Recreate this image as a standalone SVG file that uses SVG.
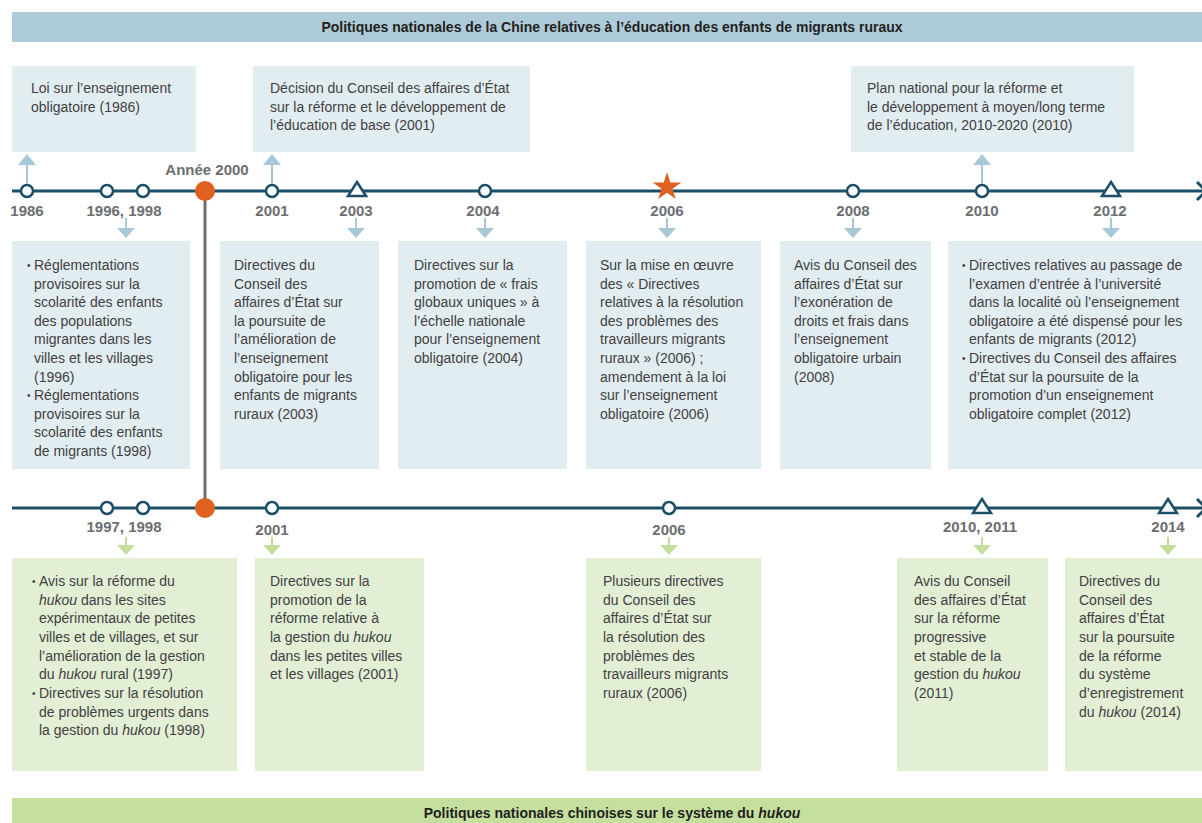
<svg xmlns="http://www.w3.org/2000/svg" width="1202" height="823" viewBox="0 0 1202 823">
<style>
.hdr{font-family:"Liberation Sans",Arial,sans-serif;font-weight:bold;font-size:14px;fill:#231f20;text-anchor:middle}
.yr{font-family:"Liberation Sans",Arial,sans-serif;font-weight:bold;font-size:15px;fill:#6d6e71;text-anchor:middle}
.tx{font-family:"Liberation Sans",Arial,sans-serif;font-size:14px;fill:#414042}
.bul{font-family:"Liberation Sans",Arial,sans-serif;font-size:10px;fill:#414042}
.it{font-style:italic}
.bbox{fill:#e2edf1}
.gbox{fill:#e2efd5}
.tl{stroke:#1b4f68;stroke-width:3;fill:none}
.dot{fill:#ffffff;stroke:#1b4f68;stroke-width:2.5}
.tri{fill:#ffffff;stroke:#1b4f68;stroke-width:2.5;stroke-linejoin:miter}
.org{fill:#e0601f}
.barr{fill:#a9c8d7}
.garr{fill:#c3de9c}
</style>

<g id="header">
<rect x="12" y="12" width="1190" height="30" fill="#aecbd9"/>
<text class="hdr" x="612" y="32">Politiques nationales de la Chine relatives à l’éducation des enfants de migrants ruraux</text>
</g>
<g id="footer">
<rect x="12" y="798" width="1190" height="25" fill="#c5df9f"/>
<text class="hdr" x="612" y="818">Politiques nationales chinoises sur le système du <tspan class="it">hukou</tspan></text>
</g>

<g id="connectors">
<line class="tl" x1="12" y1="191" x2="1202" y2="191"/>
<line class="tl" x1="12" y1="508" x2="1202" y2="508"/>
<polyline class="tl" points="1197,182 1206,191 1197,200"/>
<polyline class="tl" points="1197,499 1206,508 1197,517"/>
<line x1="205" y1="191" x2="205" y2="508" stroke="#6d6e71" stroke-width="3"/>
<!-- up arrows -->
<path class="barr" d="M27,154 L36,165 L28,165 L28,185 L26,185 L26,165 L18,165 Z"/>
<path class="barr" d="M272,154 L281,165 L273,165 L273,185 L271,185 L271,165 L263,165 Z"/>
<path class="barr" d="M982,154 L991,165 L983,165 L983,185 L981,185 L981,165 L973,165 Z"/>
<!-- down arrows top -->
<path class="barr" d="M125,218 L127,218 L127,228 L135,228 L126,238 L117,228 L125,228 Z"/>
<path class="barr" d="M355,218 L357,218 L357,228 L365,228 L356,238 L347,228 L355,228 Z"/>
<path class="barr" d="M484,218 L486,218 L486,228 L494,228 L485,238 L476,228 L484,228 Z"/>
<path class="barr" d="M666,218 L668,218 L668,228 L676,228 L667,238 L658,228 L666,228 Z"/>
<path class="barr" d="M852,218 L854,218 L854,228 L862,228 L853,238 L844,228 L852,228 Z"/>
<path class="barr" d="M1110,218 L1112,218 L1112,228 L1120,228 L1111,238 L1102,228 L1110,228 Z"/>
<!-- down arrows bottom -->
<path class="garr" d="M125,537 L127,537 L127,545 L135,545 L126,555 L117,545 L125,545 Z"/>
<path class="garr" d="M271,537 L273,537 L273,545 L281,545 L272,555 L263,545 L271,545 Z"/>
<path class="garr" d="M668,537 L670,537 L670,545 L678,545 L669,555 L660,545 L668,545 Z"/>
<path class="garr" d="M981,537 L983,537 L983,545 L991,545 L982,555 L973,545 L981,545 Z"/>
<path class="garr" d="M1167,537 L1169,537 L1169,545 L1177,545 L1168,555 L1159,545 L1167,545 Z"/>
</g>

<!-- top timeline nodes -->
<g id="t1986"><circle class="dot" cx="27" cy="191" r="6"/><text class="yr" x="27" y="216">1986</text></g>
<g id="t1996-1998"><circle class="dot" cx="107" cy="191" r="6"/><circle class="dot" cx="143" cy="191" r="6"/><text class="yr" x="124" y="216">1996, 1998</text></g>
<g id="t2000"><circle class="org" cx="205" cy="191" r="10"/><text class="yr" x="207" y="175">Année 2000</text></g>
<g id="t2001"><circle class="dot" cx="272" cy="191" r="6"/><text class="yr" x="272" y="216">2001</text></g>
<g id="t2003"><polygon class="tri" points="357,182 366,196 348,196"/><text class="yr" x="356" y="216">2003</text></g>
<g id="t2004"><circle class="dot" cx="485" cy="191" r="6"/><text class="yr" x="483" y="216">2004</text></g>
<g id="t2006"><polygon class="org" points="667,172 670.4,182.4 681.3,182.4 672.5,188.8 675.8,199.1 667,192.7 658.2,199.1 661.5,188.8 652.7,182.4 663.6,182.4"/><text class="yr" x="667" y="216">2006</text></g>
<g id="t2008"><circle class="dot" cx="853" cy="191" r="6"/><text class="yr" x="853" y="216">2008</text></g>
<g id="t2010"><circle class="dot" cx="982" cy="191" r="6"/><text class="yr" x="982" y="216">2010</text></g>
<g id="t2012"><polygon class="tri" points="1111,182 1120,196 1102,196"/><text class="yr" x="1110" y="216">2012</text></g>

<!-- bottom timeline nodes -->
<g id="b1997-1998"><circle class="dot" cx="107" cy="508" r="6"/><circle class="dot" cx="143" cy="508" r="6"/><text class="yr" x="124" y="532">1997, 1998</text></g>
<g id="b2000"><circle class="org" cx="205" cy="508" r="10"/></g>
<g id="b2001"><circle class="dot" cx="272" cy="508" r="6"/><text class="yr" x="272" y="535">2001</text></g>
<g id="b2006"><circle class="dot" cx="669" cy="508" r="6"/><text class="yr" x="669" y="535">2006</text></g>
<g id="b2010-2011"><polygon class="tri" points="982,499 991,513 973,513"/><text class="yr" x="980" y="532">2010, 2011</text></g>
<g id="b2014"><polygon class="tri" points="1168,499 1177,513 1159,513"/><text class="yr" x="1168" y="532">2014</text></g>

<!-- top boxes -->
<g id="box-1986"><rect class="bbox" x="12" y="66" width="184" height="86"/>
<text class="tx" x="31" y="93">Loi sur l’enseignement</text>
<text class="tx" x="31" y="111.5">obligatoire (1986)</text></g>
<g id="box-2001"><rect class="bbox" x="253" y="66" width="277" height="86"/>
<text class="tx" x="270" y="93">Décision du Conseil des affaires d’État</text>
<text class="tx" x="270" y="111.5">sur la réforme et le développement de</text>
<text class="tx" x="270" y="130">l’éducation de base (2001)</text></g>
<g id="box-2010"><rect class="bbox" x="851" y="66" width="283" height="86"/>
<text class="tx" x="867" y="93">Plan national pour la réforme et</text>
<text class="tx" x="867" y="111.5">le développement à moyen/long terme</text>
<text class="tx" x="867" y="130">de l’éducation, 2010-2020 (2010)</text></g>

<!-- middle boxes (blue) -->
<g id="box-1996-1998"><rect class="bbox" x="12" y="241" width="178" height="228"/>
<text class="bul" x="27" y="269">•</text><text class="bul" x="27" y="399">•</text>
<text class="tx" x="34" y="270">Réglementations</text>
<text class="tx" x="34" y="288.6">provisoires sur la</text>
<text class="tx" x="34" y="307.2">scolarité des enfants</text>
<text class="tx" x="34" y="325.8">des populations</text>
<text class="tx" x="34" y="344.4">migrantes dans les</text>
<text class="tx" x="34" y="363">villes et les villages</text>
<text class="tx" x="34" y="381.6">(1996)</text>
<text class="tx" x="34" y="400.2">Réglementations</text>
<text class="tx" x="34" y="418.8">provisoires sur la</text>
<text class="tx" x="34" y="437.4">scolarité des enfants</text>
<text class="tx" x="34" y="456">de migrants (1998)</text></g>
<g id="box-2003"><rect class="bbox" x="220" y="241" width="159" height="228"/>
<text class="tx" x="234" y="270">Directives du</text>
<text class="tx" x="234" y="288.6">Conseil des</text>
<text class="tx" x="234" y="307.2">affaires d’État sur</text>
<text class="tx" x="234" y="325.8">la poursuite de</text>
<text class="tx" x="234" y="344.4">l’amélioration de</text>
<text class="tx" x="234" y="363">l’enseignement</text>
<text class="tx" x="234" y="381.6">obligatoire pour les</text>
<text class="tx" x="234" y="400.2">enfants de migrants</text>
<text class="tx" x="234" y="418.8">ruraux (2003)</text></g>
<g id="box-2004"><rect class="bbox" x="398" y="241" width="169" height="228"/>
<text class="tx" x="414" y="270">Directives sur la</text>
<text class="tx" x="414" y="288.6">promotion de « frais</text>
<text class="tx" x="414" y="307.2">globaux uniques » à</text>
<text class="tx" x="414" y="325.8">l’échelle nationale</text>
<text class="tx" x="414" y="344.4">pour l’enseignement</text>
<text class="tx" x="414" y="363">obligatoire (2004)</text></g>
<g id="box-2006"><rect class="bbox" x="586" y="241" width="175" height="228"/>
<text class="tx" x="600" y="270">Sur la mise en œuvre</text>
<text class="tx" x="600" y="288.6">des « Directives</text>
<text class="tx" x="600" y="307.2">relatives à la résolution</text>
<text class="tx" x="600" y="325.8">des problèmes des</text>
<text class="tx" x="600" y="344.4">travailleurs migrants</text>
<text class="tx" x="600" y="363">ruraux » (2006) ;</text>
<text class="tx" x="600" y="381.6">amendement à la loi</text>
<text class="tx" x="600" y="400.2">sur l’enseignement</text>
<text class="tx" x="600" y="418.8">obligatoire (2006)</text></g>
<g id="box-2008"><rect class="bbox" x="780" y="241" width="151" height="228"/>
<text class="tx" x="794" y="270">Avis du Conseil des</text>
<text class="tx" x="794" y="288.6">affaires d’État sur</text>
<text class="tx" x="794" y="307.2">l’exonération de</text>
<text class="tx" x="794" y="325.8">droits et frais dans</text>
<text class="tx" x="794" y="344.4">l’enseignement</text>
<text class="tx" x="794" y="363">obligatoire urbain</text>
<text class="tx" x="794" y="381.6">(2008)</text></g>
<g id="box-2012"><rect class="bbox" x="948" y="241" width="254" height="228"/>
<text class="bul" x="962" y="269">•</text><text class="bul" x="962" y="362">•</text>
<text class="tx" x="969" y="270">Directives relatives au passage de</text>
<text class="tx" x="969" y="288.6">l’examen d’entrée à l’université</text>
<text class="tx" x="969" y="307.2">dans la localité où l’enseignement</text>
<text class="tx" x="969" y="325.8">obligatoire a été dispensé pour les</text>
<text class="tx" x="969" y="344.4">enfants de migrants (2012)</text>
<text class="tx" x="969" y="363">Directives du Conseil des affaires</text>
<text class="tx" x="969" y="381.6">d’État sur la poursuite de la</text>
<text class="tx" x="969" y="400.2">promotion d’un enseignement</text>
<text class="tx" x="969" y="418.8">obligatoire complet (2012)</text></g>

<!-- bottom boxes (green) -->
<g id="box-1997-1998"><rect class="gbox" x="12" y="558" width="225" height="213"/>
<text class="bul" x="32" y="585">•</text><text class="bul" x="32" y="697">•</text>
<text class="tx" x="39" y="586">Avis sur la réforme du</text>
<text class="tx" x="39" y="604.7"><tspan class="it">hukou</tspan> dans les sites</text>
<text class="tx" x="39" y="623.3">expérimentaux de petites</text>
<text class="tx" x="39" y="642">villes et de villages, et sur</text>
<text class="tx" x="39" y="660.7">l’amélioration de la gestion</text>
<text class="tx" x="39" y="679.3">du <tspan class="it">hukou</tspan> rural (1997)</text>
<text class="tx" x="39" y="698">Directives sur la résolution</text>
<text class="tx" x="39" y="716.7">de problèmes urgents dans</text>
<text class="tx" x="39" y="735.3">la gestion du <tspan class="it">hukou</tspan> (1998)</text></g>
<g id="box-2001b"><rect class="gbox" x="255" y="558" width="169" height="213"/>
<text class="tx" x="270" y="586">Directives sur la</text>
<text class="tx" x="270" y="604.7">promotion de la</text>
<text class="tx" x="270" y="623.3">réforme relative à</text>
<text class="tx" x="270" y="642">la gestion du <tspan class="it">hukou</tspan></text>
<text class="tx" x="270" y="660.7">dans les petites villes</text>
<text class="tx" x="270" y="679.3">et les villages (2001)</text></g>
<g id="box-2006b"><rect class="gbox" x="586" y="558" width="175" height="213"/>
<text class="tx" x="603" y="586">Plusieurs directives</text>
<text class="tx" x="603" y="604.7">du Conseil des</text>
<text class="tx" x="603" y="623.3">affaires d’État sur</text>
<text class="tx" x="603" y="642">la résolution des</text>
<text class="tx" x="603" y="660.7">problèmes des</text>
<text class="tx" x="603" y="679.3">travailleurs migrants</text>
<text class="tx" x="603" y="698">ruraux (2006)</text></g>
<g id="box-2011"><rect class="gbox" x="897" y="558" width="151" height="213"/>
<text class="tx" x="914" y="586">Avis du Conseil</text>
<text class="tx" x="914" y="604.7">des affaires d’État</text>
<text class="tx" x="914" y="623.3">sur la réforme</text>
<text class="tx" x="914" y="642">progressive</text>
<text class="tx" x="914" y="660.7">et stable de la</text>
<text class="tx" x="914" y="679.3">gestion du <tspan class="it">hukou</tspan></text>
<text class="tx" x="914" y="698">(2011)</text></g>
<g id="box-2014"><rect class="gbox" x="1065" y="558" width="137" height="213"/>
<text class="tx" x="1079" y="586">Directives du</text>
<text class="tx" x="1079" y="604.7">Conseil des</text>
<text class="tx" x="1079" y="623.3">affaires d’État</text>
<text class="tx" x="1079" y="642">sur la poursuite</text>
<text class="tx" x="1079" y="660.7">de la réforme</text>
<text class="tx" x="1079" y="679.3">du système</text>
<text class="tx" x="1079" y="698">d’enregistrement</text>
<text class="tx" x="1079" y="716.7">du <tspan class="it">hukou</tspan> (2014)</text></g>
</svg>
